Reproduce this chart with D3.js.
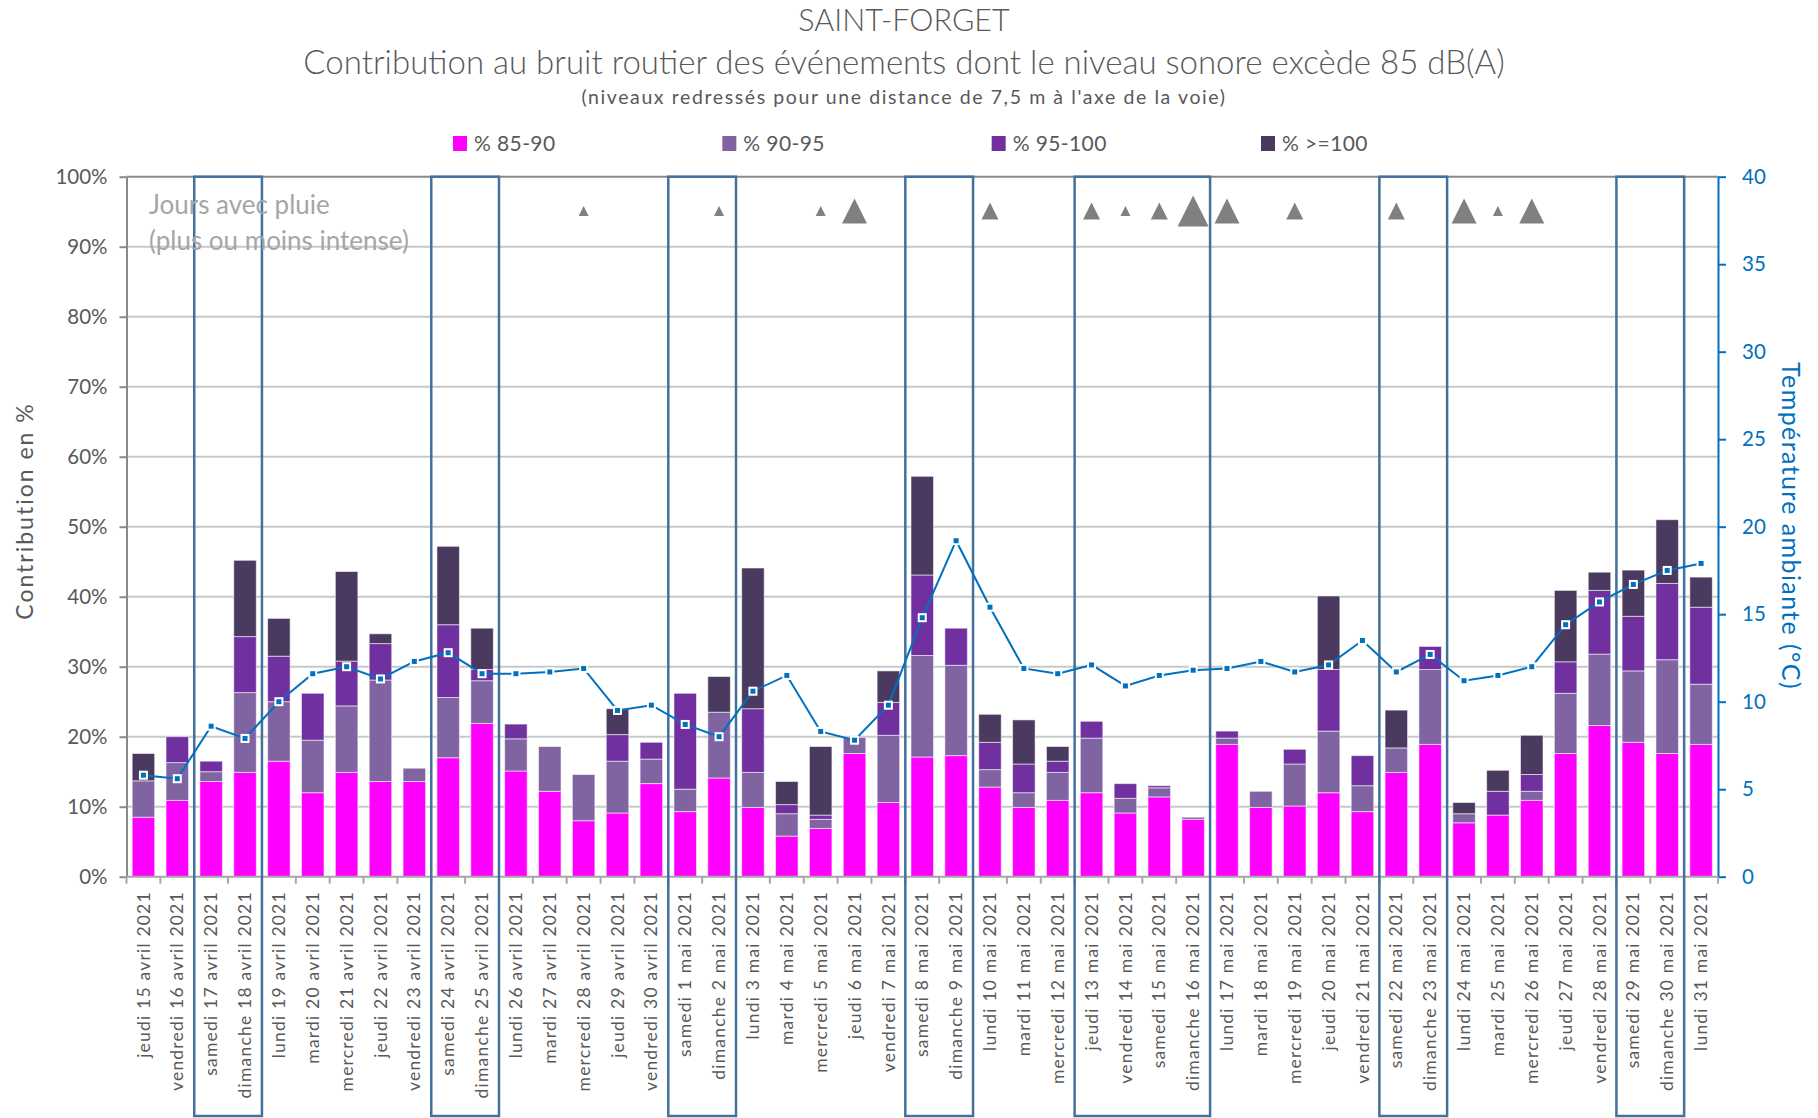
<!DOCTYPE html>
<html>
<head>
<meta charset="utf-8">
<script src="https://cdn.jsdelivr.net/npm/d3@7"></script>
<style>
body { margin: 0; background: #fff; }
text { font-family: Lato, "Open Sans", sans-serif; }
</style>
</head>
<body>
<div id="chart"></div>
<script>
const width = 1818
const height = 1118

const jours = [
    "jeudi 15 avril 2021", "vendredi 16 avril 2021", "samedi 17 avril 2021", "dimanche 18 avril 2021",
    "lundi 19 avril 2021", "mardi 20 avril 2021", "mercredi 21 avril 2021", "jeudi 22 avril 2021",
    "vendredi 23 avril 2021", "samedi 24 avril 2021", "dimanche 25 avril 2021", "lundi 26 avril 2021",
    "mardi 27 avril 2021", "mercredi 28 avril 2021", "jeudi 29 avril 2021", "vendredi 30 avril 2021",
    "samedi 1 mai 2021", "dimanche 2 mai 2021", "lundi 3 mai 2021", "mardi 4 mai 2021",
    "mercredi 5 mai 2021", "jeudi 6 mai 2021", "vendredi 7 mai 2021", "samedi 8 mai 2021",
    "dimanche 9 mai 2021", "lundi 10 mai 2021", "mardi 11 mai 2021", "mercredi 12 mai 2021",
    "jeudi 13 mai 2021", "vendredi 14 mai 2021", "samedi 15 mai 2021", "dimanche 16 mai 2021",
    "lundi 17 mai 2021", "mardi 18 mai 2021", "mercredi 19 mai 2021", "jeudi 20 mai 2021",
    "vendredi 21 mai 2021", "samedi 22 mai 2021", "dimanche 23 mai 2021", "lundi 24 mai 2021",
    "mardi 25 mai 2021", "mercredi 26 mai 2021", "jeudi 27 mai 2021", "vendredi 28 mai 2021",
    "samedi 29 mai 2021", "dimanche 30 mai 2021", "lundi 31 mai 2021"
]
// contribution (%) per class of sound level
const pct_85_90 = [8.5, 10.9, 13.6, 14.9, 16.5, 12.0, 14.9, 13.6, 13.6, 17.0,
    21.9, 15.1, 12.2, 8.0, 9.1, 13.3, 9.3, 14.1, 9.9, 5.8,
    6.9, 17.6, 10.6, 17.1, 17.3, 12.8, 9.9, 10.9, 12.0, 9.1,
    11.4, 8.2, 18.9, 9.9, 10.1, 12.0, 9.3, 14.9, 18.9, 7.7,
    8.8, 10.9, 17.6, 21.6, 19.2, 17.6, 18.9]
const pct_90_95 = [5.2, 5.4, 1.4, 11.4, 8.5, 7.5, 9.5, 14.5, 1.9, 8.6,
    6.1, 4.6, 6.4, 6.6, 7.4, 3.5, 3.2, 9.4, 5.0, 3.2,
    1.3, 2.3, 9.6, 14.5, 12.9, 2.5, 2.1, 4.0, 7.8, 2.1,
    1.3, 0.3, 0.9, 2.3, 6.0, 8.8, 3.7, 3.5, 10.7, 1.3,
    0, 1.3, 8.6, 10.2, 10.2, 13.4, 8.6]
const pct_95_100 = [0, 3.7, 1.5, 8.0, 6.5, 6.7, 6.4, 5.2, 0, 10.4,
    1.6, 2.1, 0, 0, 3.8, 2.4, 13.7, 0, 9.1, 1.3,
    0.6, 0, 4.7, 11.5, 5.3, 3.9, 4.1, 1.6, 2.4, 2.1,
    0.3, 0, 1.0, 0, 2.1, 8.8, 4.3, 0, 3.3, 0,
    3.4, 2.4, 4.5, 9.1, 7.8, 10.9, 11.0]
const pct_100 = [3.9, 0, 0, 10.9, 5.4, 0, 12.8, 1.4, 0, 11.2,
    5.9, 0, 0, 0, 3.7, 0, 0, 5.1, 20.1, 3.3,
    9.8, 0, 4.5, 14.1, 0, 4.0, 6.3, 2.1, 0, 0,
    0, 0, 0, 0, 0, 10.5, 0, 5.4, 0, 1.6,
    3.0, 5.6, 10.2, 2.6, 6.6, 9.1, 4.3]
// temperature ambiante (°C)
const temperature = [5.8, 5.6, 8.6, 7.9, 10.0, 11.6, 12.0, 11.3, 12.3, 12.8,
    11.6, 11.6, 11.7, 11.9, 9.5, 9.8, 8.7, 8.0, 10.6, 11.5,
    8.3, 7.8, 9.8, 14.8, 19.2, 15.4, 11.9, 11.6, 12.1, 10.9,
    11.5, 11.8, 11.9, 12.3, 11.7, 12.1, 13.5, 11.7, 12.7, 11.2,
    11.5, 12.0, 14.4, 15.7, 16.7, 17.5, 17.9]
// pluie : 0 = pas de pluie, 1..4 = plus ou moins intense
const pluie = [0, 0, 0, 0, 0, 0, 0, 0, 0, 0,
    0, 0, 0, 1, 0, 0, 0, 1, 0, 0,
    1, 3, 0, 0, 0, 2, 0, 0, 2, 1,
    2, 4, 3, 0, 2, 0, 0, 2, 0, 3,
    1, 3, 0, 0, 0, 0, 0]
const weekends = [
    ["samedi 17 avril 2021", "dimanche 18 avril 2021"],
    ["samedi 24 avril 2021", "dimanche 25 avril 2021"],
    ["samedi 1 mai 2021", "dimanche 2 mai 2021"],
    ["samedi 8 mai 2021", "dimanche 9 mai 2021"],
    ["jeudi 13 mai 2021", "dimanche 16 mai 2021"],
    ["samedi 22 mai 2021", "dimanche 23 mai 2021"],
    ["samedi 29 mai 2021", "dimanche 30 mai 2021"]
]
const series_names = ["% 85-90", "% 90-95", "% 95-100", "% >=100"]
const pct_ticks = [0, 10, 20, 30, 40, 50, 60, 70, 80, 90, 100]
const temp_ticks = [0, 5, 10, 15, 20, 25, 30, 35, 40]

const colors = ["#FF00FF", "#8064A2", "#7030A0", "#4B3A60"]
const color_temp = "#0070C0"
const color_text = "#595959"

document.addEventListener('DOMContentLoaded', function ()
{
const svg = d3.select("#chart")
    .append("svg")
    .attr("width", width)
    .attr("height", height)

const x0 = 126.5, x1 = 1718
const y_bottom = 876.7, y_top = 176.7

const x = d3.scaleBand()
    .domain(jours)
    .range([x0, x1])
    .paddingInner(0.335)
    .paddingOuter(0.1675)
const y = d3.scaleLinear().domain([0, 100]).range([y_bottom, y_top])
const y_temp = d3.scaleLinear().domain([0, 40]).range([y_bottom, y_top])
const gap = (x.step() - x.bandwidth()) / 2
const left_of = d => x(d) - gap
const right_of = d => x(d) + x.bandwidth() + gap
const center_of = d => x(d) + x.bandwidth() / 2

/* Titles */
svg.append("text")
    .attr("x", 904).attr("y", 31)
    .attr("text-anchor", "middle")
    .attr("font-size", 30.5)
    .attr("font-weight", 300)
    .attr("fill", color_text)
    .text("SAINT-FORGET")
svg.append("text")
    .attr("x", 904).attr("y", 74)
    .attr("text-anchor", "middle")
    .attr("font-size", 33)
    .attr("font-weight", 300)
    .attr("fill", color_text)
    .text("Contribution au bruit routier des événements dont le niveau sonore excède 85 dB(A)")
svg.append("text")
    .attr("x", 904).attr("y", 104)
    .attr("text-anchor", "middle")
    .attr("font-size", 19.5)
    .attr("letter-spacing", 1.6)
    .attr("fill", color_text)
    .text("(niveaux redressés pour une distance de 7,5 m à l'axe de la voie)")

/* Legend */
const legend_x = d3.scalePoint().domain(series_names).range([453, 1261])
const legend = svg.selectAll(".legend")
    .data(series_names)
    .enter()
    .append("g")
    .attr("class", "legend")
    .attr("transform", d => `translate(${legend_x(d)},136)`)
legend.append("rect")
    .attr("width", 14)
    .attr("height", 15)
    .attr("fill", (_, i) => colors[i])
legend.append("text")
    .attr("x", 21)
    .attr("y", 8)
    .attr("dy", "0.35em")
    .attr("font-size", 21)
    .attr("letter-spacing", 0.4)
    .attr("fill", color_text)
    .text(d => d)

/* Grid */
svg.selectAll(".grid")
    .data(pct_ticks.filter(d => d > 0))
    .enter()
    .append("line")
    .attr("x1", x0).attr("x2", x1)
    .attr("y1", d => y(d)).attr("y2", d => y(d))
    .attr("stroke", d => d === 100 ? "#898989" : "#C8C8C8")
    .attr("stroke-width", 2)

/* Bars */
const rows = jours.map((j, i) => ({
    jour: j, s0: pct_85_90[i], s1: pct_90_95[i], s2: pct_95_100[i], s3: pct_100[i]
}))
const stacked = d3.stack().keys(["s0", "s1", "s2", "s3"])(rows)
svg.append("g")
    .selectAll("g")
    .data(stacked)
    .enter()
    .append("g")
    .attr("fill", (_, i) => colors[i])
    .selectAll("rect")
    .data(d => d.filter(v => v[1] - v[0] > 0))
    .enter()
    .append("rect")
    .attr("x", d => x(d.data.jour))
    .attr("width", x.bandwidth())
    .attr("y", d => y(d[1]))
    .attr("height", d => y(d[0]) - y(d[1]))
    .attr("stroke", "#ffffff")
    .attr("stroke-opacity", 0.55)
    .attr("stroke-width", 1)

/* Axes */
const axis_left = svg.append("g")
    .attr("transform", `translate(${x0},0)`)
    .call(d3.axisLeft(y).tickValues(pct_ticks).tickFormat(d => d + "%")
        .tickSize(7).tickSizeOuter(0).tickPadding(12))
axis_left.select(".domain").attr("stroke", "#898989").attr("stroke-width", 2)
axis_left.selectAll(".tick line").attr("stroke", "#898989").attr("stroke-width", 2)
axis_left.selectAll("text")
    .attr("font-size", 20.5)
    .attr("fill", color_text)
    .attr("font-family", "Lato")

const axis_right = svg.append("g")
    .attr("transform", `translate(${x1},0)`)
    .call(d3.axisRight(y_temp).tickValues(temp_ticks)
        .tickSize(8).tickSizeOuter(0).tickPadding(16))
axis_right.select(".domain").attr("stroke", color_temp).attr("stroke-width", 2)
axis_right.selectAll(".tick line").attr("stroke", color_temp).attr("stroke-width", 2)
axis_right.selectAll("text")
    .attr("font-size", 20.5)
    .attr("fill", color_temp)
    .attr("font-family", "Lato")

const axis_bottom = svg.append("g")
    .attr("transform", `translate(0,${y_bottom})`)
    .call(d3.axisBottom(x).tickSize(0).tickSizeOuter(0))
axis_bottom.select(".domain").remove()
axis_bottom.selectAll("text")
    .attr("transform", "rotate(-90)")
    .attr("text-anchor", "end")
    .attr("x", -14.5)
    .attr("y", 0)
    .attr("dy", "0.35em")
    .attr("font-size", 17.5)
    .attr("letter-spacing", 1.2)
    .attr("fill", color_text)
    .attr("font-family", "Lato")
svg.append("line")
    .attr("x1", x0).attr("x2", x1)
    .attr("y1", y_bottom).attr("y2", y_bottom)
    .attr("stroke", "#A6A6A6")
    .attr("stroke-width", 2)
svg.selectAll(".xtick")
    .data(jours.map(left_of).concat([right_of(jours[jours.length - 1])]))
    .enter()
    .append("line")
    .attr("x1", d => d).attr("x2", d => d)
    .attr("y1", y_bottom).attr("y2", y_bottom + 7)
    .attr("stroke", "#A6A6A6")
    .attr("stroke-width", 2)

/* Axis titles */
svg.append("text")
    .attr("transform", `translate(25,511) rotate(-90)`)
    .attr("text-anchor", "middle")
    .attr("dy", "0.35em")
    .attr("font-size", 23)
    .attr("letter-spacing", 2)
    .attr("fill", color_text)
    .text("Contribution en %")
svg.append("text")
    .attr("transform", `translate(1791,526) rotate(90)`)
    .attr("text-anchor", "middle")
    .attr("dy", "0.35em")
    .attr("font-size", 25)
    .attr("letter-spacing", 1.4)
    .attr("fill", color_temp)
    .text("Température ambiante (°C)")

/* Week-ends */
svg.selectAll(".weekend")
    .data(weekends)
    .enter()
    .append("rect")
    .attr("x", d => left_of(d[0]))
    .attr("width", d => right_of(d[1]) - left_of(d[0]))
    .attr("y", y_top)
    .attr("height", 1116 - y_top)
    .attr("fill", "none")
    .attr("stroke", "#41719C")
    .attr("stroke-width", 2.5)

/* Temperature */
svg.append("path")
    .datum(temperature)
    .attr("fill", "none")
    .attr("stroke", color_temp)
    .attr("stroke-width", 2)
    .attr("d", d3.line().x((_, i) => center_of(jours[i])).y(d => y_temp(d)))
svg.selectAll(".temp")
    .data(temperature)
    .enter()
    .append("rect")
    .attr("x", (_, i) => center_of(jours[i]) - 3.5)
    .attr("y", d => y_temp(d) - 3.5)
    .attr("width", 7)
    .attr("height", 7)
    .attr("fill", color_temp)
    .attr("stroke", "#ffffff")
    .attr("stroke-width", 2)

/* Pluie */
const rain_size = d3.scaleOrdinal().domain([1, 2, 3, 4]).range([10, 17, 25, 31])
const rain_y = y(95.1)
svg.selectAll(".pluie")
    .data(pluie.map((p, i) => ({jour: jours[i], p: p})).filter(d => d.p > 0))
    .enter()
    .append("path")
    .attr("d", d => {
        const s = rain_size(d.p), cx = center_of(d.jour)
        return `M${cx},${rain_y - s / 2} L${cx + s / 2},${rain_y + s / 2} L${cx - s / 2},${rain_y + s / 2} Z`
    })
    .attr("fill", "#808080")

svg.append("text")
    .attr("x", 149)
    .attr("y", 214)
    .attr("font-size", 26)
    .attr("fill", "#A6A6A6")
    .text("Jours avec pluie")
svg.append("text")
    .attr("x", 149)
    .attr("y", 250)
    .attr("font-size", 26)
    .attr("fill", "#A6A6A6")
    .text("(plus ou moins intense)")
}, { once: true });
</script>
</body>
</html>
